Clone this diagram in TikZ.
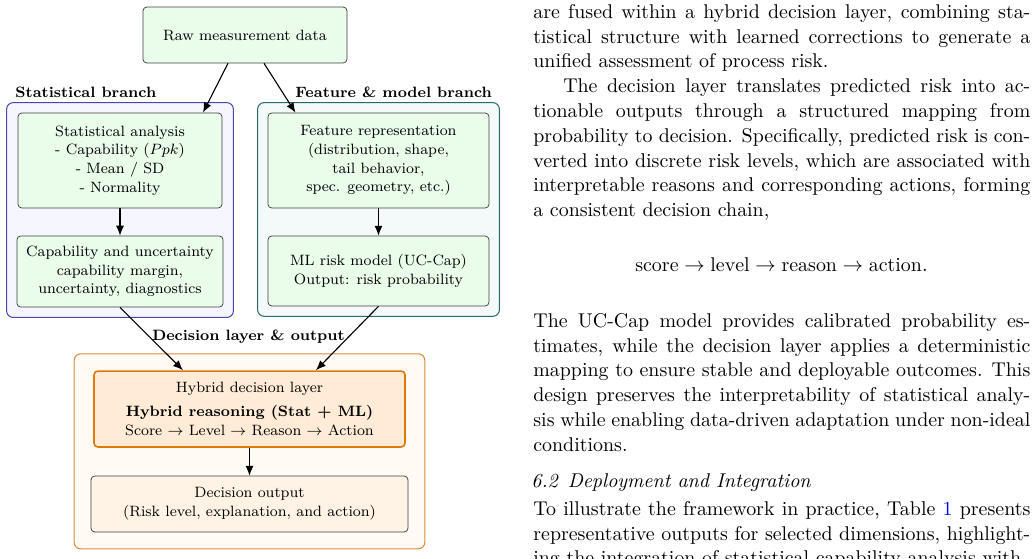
\documentclass[tikz,border=0pt]{standalone}
\usepackage{fontspec}
\linespread{1.05}
\usetikzlibrary{arrows.meta, positioning, fit, backgrounds, calc}

\definecolor{boxgreen}{RGB}{234,252,234}
\definecolor{statline}{RGB}{72,72,168}
\definecolor{statfill}{RGB}{245,246,255}
\definecolor{featline}{RGB}{44,104,104}
\definecolor{featfill}{RGB}{244,250,250}
\definecolor{decline}{RGB}{218,138,60}
\definecolor{decfill}{RGB}{255,250,244}
\definecolor{hybline}{RGB}{224,120,10}
\definecolor{hybfill}{RGB}{255,235,214}
\definecolor{outfill}{RGB}{255,243,230}

\newcommand{\bodyfont}{\fontsize{10.65}{12.62}\selectfont}

\begin{document}
\begin{tikzpicture}[x=0.5348pt,y=-0.5348pt,
  box/.style={rectangle,draw=black!75,fill=boxgreen,rounded corners=2pt,align=center,font=\footnotesize,inner sep=2pt},
  grp/.style={rectangle,rounded corners=3.5pt,inner sep=5.35pt,line width=0.55pt},
  lbl/.style={font=\footnotesize\bfseries,inner sep=0pt},
  txt/.style={anchor=north west,inner sep=0pt,text width=265.8pt,align=justify,font=\bodyfont,execute at begin node={\parindent=0pt}},
  fl/.style={-{Latex[length=5.3pt,width=4.3pt]},semithick}
]
  \useasboundingbox (0,0) rectangle (1035,559);
  \clip (0,0) rectangle (1035,559);

  % diagram
  \node[box,minimum width=109.1pt,minimum height=29.9pt] (raw) at (245,35) {Raw measurement data};
  \node[box,minimum width=109.1pt,minimum height=50.8pt] (stat) at (120,160.5) {Statistical analysis\\- Capability ($Ppk$)\\- Mean / SD\\- Normality};
  \node[box,minimum width=110.2pt,minimum height=38pt] (cap) at (120,271.5) {Capability and uncertainty\\capability margin,\\uncertainty, diagnostics};
  \node[box,minimum width=118.2pt,minimum height=50.8pt] (feat) at (378.5,160.5) {Feature representation\\(distribution, shape,\\tail behavior,\\spec. geometry, etc.)};
  \node[box,minimum width=118.2pt,minimum height=37.4pt] (ml) at (378.5,271) {ML risk model (UC-Cap)\\Output: risk probability};
  \node[box,draw=hybline,fill=hybfill,line width=0.85pt,minimum width=166.3pt,minimum height=40.6pt] (hyb) at (249.5,409) {Hybrid decision layer\\[2.7pt]\textbf{Hybrid reasoning (Stat + ML)}\\Score $\rightarrow$ Level $\rightarrow$ Reason $\rightarrow$ Action};
  \node[box,fill=outfill,minimum width=169.5pt,minimum height=29.9pt] (out) at (249.5,504) {Decision output\\(Risk level, explanation, and action)};

  \begin{scope}[on background layer]
    \node[grp,draw=statline,fill=statfill,fit=(stat)(cap)] (statgrp) {};
    \node[grp,draw=featline,fill=featfill,fit=(feat)(ml)] (featgrp) {};
    \node[grp,draw=decline,fill=decfill,inner sep=8.8pt,fit=(hyb)(out)] (decgrp) {};
  \end{scope}

  \node[lbl,anchor=west] (statlbl) at ($(statgrp.north west)+(9,-10)$) {Statistical branch};
  \node[lbl,anchor=west] (featlbl) at ($(featgrp.north west)+(38,-10)$) {Feature \& model branch};
  \node[lbl] (declbl) at ($(decgrp.north)+(-1,-17)$) {Decision layer \& output};

  \draw[fl] ($(raw.south)+(-17,0)$) -- ($(stat.north)+(83,0)$);
  \draw[fl] ($(raw.south)+(19,0)$) -- ($(feat.north)+(-83,0)$);
  \draw[fl] (stat) -- (cap);
  \draw[fl] (feat) -- (ml);
  \draw[fl] (cap.south) -- ($(hyb.north)+(-66.5,0)$);
  \draw[fl] (ml.south) -- ($(hyb.north)+(66.5,0)$);
  \draw[fl] (hyb) -- (out);

  % text column
  \node[txt] (para1) at (533,4) {are fused within a hybrid decision layer, combining sta-\linebreak tistical structure with learned corrections to generate a\linebreak unified assessment of process risk.\par
  \hspace*{16pt}The decision layer translates predicted risk into ac-\linebreak tionable outputs through a structured mapping from\linebreak probability to decision. Specifically, predicted risk is con-\linebreak verted into discrete risk levels, which are associated with\linebreak interpretable reasons and corresponding actions, forming\linebreak a consistent decision chain,};
  \node[font=\bodyfont,inner sep=0pt,anchor=base] (chain) at (781.5,271) {$\mathrm{score}\rightarrow\mathrm{level}\rightarrow\mathrm{reason}\rightarrow\mathrm{action}.$};
  \node[txt] (para2) at (533,313) {The UC-Cap model provides calibrated probability es-\linebreak timates, while the decision layer applies a deterministic\linebreak mapping to ensure stable and deployable outcomes. This\linebreak design preserves the interpretability of statistical analy-\linebreak sis while enabling data-driven adaptation under non-ideal\linebreak conditions.};
  \node[font=\bodyfont\itshape,inner sep=0pt,anchor=base west] (sec) at (531,487) {6.2\enskip Deployment and Integration};
  \node[txt] (para3) at (533,501) {To illustrate the framework in practice, Table \textcolor{blue}{1} presents\linebreak representative outputs for selected dimensions, highlight-\linebreak ing the integration of statistical capability analysis with};
\end{tikzpicture}
\end{document}
